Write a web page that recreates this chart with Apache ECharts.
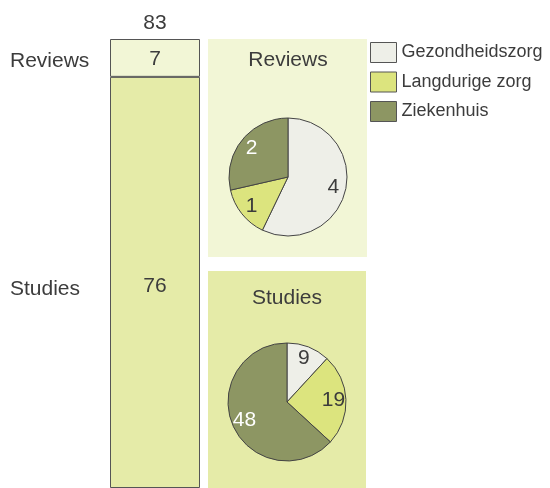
<!DOCTYPE html>
<html>
<head>
<meta charset="utf-8">
<script src="https://cdn.jsdelivr.net/npm/echarts@6/dist/echarts.min.js"></script>
<style>
  html, body { margin: 0; background: #fff; }
  #chart { width: 550px; height: 488px; }
</style>
</head>
<body>
<div id="chart"></div>
<script>
// data
const groups = ['Reviews', 'Studies'];
const groupTotals = [7, 76];
const sectors = ['Gezondheidszorg', 'Langdurige zorg', 'Ziekenhuis'];
const reviewsBySector = [4, 1, 2];
const studiesBySector = [9, 19, 48];

const sectorColors = ['#eeefe8', '#dce47e', '#8d9663'];
const sectorLabelColors = ['#3c3c3c', '#3c3c3c', '#ffffff'];
const groupColors = ['#f2f6d6', '#e5eba8'];
const textColor = '#3c3c3c';
const font = 'Liberation Sans, Arial, sans-serif';

const total = groupTotals.reduce((a, b) => a + b, 0);

const chart = echarts.init(document.getElementById('chart'));

function titleText(text, left, top, align) {
  return {
    text: text, left: left, top: top, textAlign: align, padding: 0,
    textStyle: {color: textColor, fontSize: 21, fontWeight: 'normal', fontFamily: font}
  };
}

function pieData(values) {
  return values.map((v, i) => ({
    name: sectors[i],
    value: v,
    itemStyle: {color: sectorColors[i]}
  }));
}

function pieSeries(values, center) {
  return [
    {
      type: 'pie',
      center: center,
      radius: 59,
      startAngle: 90,
      silent: true,
      label: {show: false},
      labelLine: {show: false},
      itemStyle: {borderColor: '#444', borderWidth: 1},
      data: pieData(values)
    },
    // transparent ring only to place the value labels at ~0.74 r
    {
      type: 'pie',
      center: center,
      radius: [28, 59],
      startAngle: 90,
      silent: true,
      label: {show: true, position: 'inside', fontSize: 21, fontFamily: font, formatter: '{c}'},
      labelLine: {show: false},
      itemStyle: {borderWidth: 0},
      data: values.map((v, i) => ({
        name: sectors[i],
        value: v,
        itemStyle: {color: 'rgba(0,0,0,0)'},
        label: {color: sectorLabelColors[i]}
      }))
    }
  ];
}

const barLabel = {show: true, position: 'inside', color: textColor, fontSize: 21, fontFamily: font};

const option = {
  animation: false,
  title: [
    titleText(String(total), 155, 13, 'center'),
    titleText(groups[0], 10, 51, 'left'),
    titleText(groups[1], 10, 279, 'left'),
    titleText(groups[0], 288, 50, 'center'),
    titleText(groups[1], 287, 288, 'center')
  ],
  graphic: [
    {type: 'rect', z: -10, shape: {x: 208, y: 39, width: 159, height: 218}, style: {fill: groupColors[0]}},
    {type: 'rect', z: -10, shape: {x: 208, y: 271, width: 158, height: 217}, style: {fill: groupColors[1]}}
  ],
  legend: {
    orient: 'vertical',
    left: 370,
    top: 42,
    padding: 0,
    itemWidth: 26,
    itemHeight: 20,
    itemGap: 8.5,
    selectedMode: false,
    icon: 'rect',
    itemStyle: {borderColor: '#555', borderWidth: 1},
    textStyle: {color: textColor, fontSize: 18, fontFamily: font},
    data: sectors.map((s, i) => ({name: s, itemStyle: {color: sectorColors[i]}}))
  },
  grid: {left: 110, top: 39, width: 90, height: 452},
  xAxis: {type: 'category', data: ['all'], show: false},
  yAxis: {type: 'value', min: 0, max: total, show: false},
  series: [
    // Studies at the bottom, Reviews stacked on top
    {
      type: 'bar',
      stack: 'n',
      barWidth: '100%',
      data: [groupTotals[1]],
      itemStyle: {color: groupColors[1], borderColor: '#555', borderWidth: 1},
      label: Object.assign({offset: [0, 4]}, barLabel)
    },
    {
      type: 'bar',
      stack: 'n',
      barWidth: '100%',
      data: [groupTotals[0]],
      itemStyle: {color: groupColors[0], borderColor: '#555', borderWidth: 1},
      label: Object.assign({offset: [0, 1]}, barLabel)
    }
  ].concat(pieSeries(reviewsBySector, [288, 177]), pieSeries(studiesBySector, [287, 402]))
};

chart.setOption(option);
</script>
</body>
</html>
